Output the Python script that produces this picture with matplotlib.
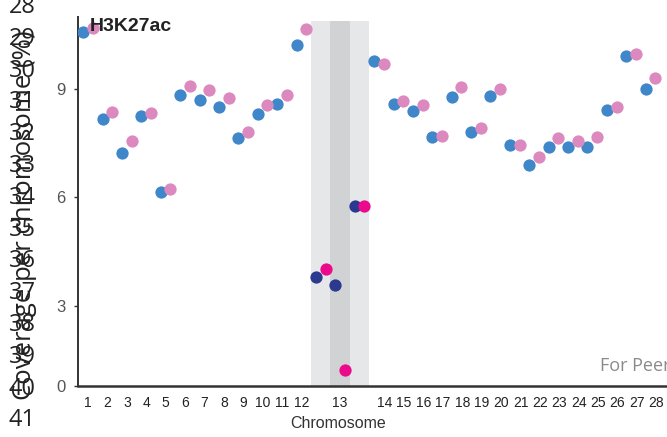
import matplotlib
matplotlib.use("Agg")
import matplotlib.pyplot as plt
import numpy as np

# coverage per chromosome, two replicates (chr13 handled separately)
chroms = [str(c) for c in range(1, 13)] + [str(c) for c in range(14, 29)]
rep_a = [10.57, 8.17, 7.23, 8.25, 6.15, 8.83, 8.69, 8.50, 7.64, 8.30, 8.58, 10.21,
         9.77, 8.58, 8.39, 7.67, 8.77, 7.81, 8.80, 7.45, 6.90, 7.39, 7.39, 7.39,
         8.41, 9.91, 9.00]
rep_b = [10.68, 8.36, 7.56, 8.33, 6.23, 9.08, 8.97, 8.75, 7.81, 8.55, 8.83, 10.65,
         9.69, 8.66, 8.55, 7.70, 9.05, 7.92, 8.99, 7.45, 7.12, 7.64, 7.56, 7.67,
         8.50, 9.96, 9.30]

# chromosome 13 split into three segments
chr13_a = [3.80, 3.58, 5.76]
chr13_b = [4.02, 1.23, 5.76]

y_ticks = [0, 3, 6, 9]
side_numbers = list(range(28, 42))

sans = ["Liberation Sans", "DejaVu Sans"]

fig = plt.figure(figsize=(6.67, 4.37), dpi=100)
ax = fig.add_axes([0.117, 0.1167, 0.883, 0.8443])

# x positions: 1..12, three slots for chr13, then 16..30
pos = np.array(list(range(1, 13)) + list(range(16, 31)), dtype=float)
pos13 = np.array([13.0, 14.0, 15.0])
ymin, ymax = 0.79, 10.98

ax.axvspan(12.5, 15.5, ymin=0, ymax=0.99, color="#e6e7e8", lw=0, zorder=0)
ax.axvspan(13.5, 14.5, ymin=0, ymax=0.99, color="#d1d2d4", lw=0, zorder=0)

dot = 78
ax.scatter(pos - 0.25, rep_a, s=dot, color="#3f87c9", lw=0, zorder=3)
ax.scatter(pos + 0.25, rep_b, s=dot, color="#dc89c0", lw=0, zorder=3)
ax.scatter(pos13 - 0.25, chr13_a, s=dot, color="#2b3a8f", lw=0, zorder=3)
ax.scatter(pos13 + 0.25, chr13_b, s=dot, color="#ec0a8c", lw=0, zorder=3)

ax.set_xlim(0.485, 30.85)
ax.set_ylim(ymin, ymax)

tick_pos = list(pos[:12]) + [14.0] + list(pos[12:] + 0.3)
tick_lab = chroms[:12] + ["13"] + chroms[12:]
ax.set_xticks(tick_pos)
ax.set_xticklabels(tick_lab, family=sans, fontsize=10, color="#222222")
ax.tick_params(axis="x", length=0, pad=7)

ax.set_yticks([ymin, 3, 6, 9])
ax.set_yticklabels([str(v) for v in y_ticks], family=sans, fontsize=12, color="#555555")
ax.tick_params(axis="y", length=3, width=1, pad=6, color="#333333")

for s in ["top", "right"]:
    ax.spines[s].set_visible(False)
ax.spines["left"].set_color("#333333")
ax.spines["left"].set_linewidth(1.4)
ax.spines["bottom"].set_color("#333333")
ax.spines["bottom"].set_linewidth(1.8)

ax.text(0.02, 0.975, "H3K27ac", transform=ax.transAxes, family=sans,
        fontsize=14, fontweight="bold", color="#222222", va="center", ha="left")

fig.text(290 / 667, 1 - 424 / 437, "Chromosome", family=sans, fontsize=11.5,
         color="#333333", ha="left", va="center")

# stacked line numbers and rotated axis title along the left edge
for i, n in enumerate(side_numbers):
    fig.text(22 / 667, 1 - (7 + 31.8 * i) / 437, str(n), fontsize=17,
             family="Open Sans", color="#222222", ha="center", va="center")
fig.text(25 / 667, 1 - 215 / 437, "Coverage per chromosome (%)", rotation=90,
         fontsize=18.5, family="Open Sans", color="#222222", ha="center", va="center")

fig.text(600 / 667, 1 - 366 / 437, "For Peer Review", fontsize=13,
         family="Open Sans", color="#8a8a8a", ha="left", va="center")

fig.savefig("out.png", dpi=100)
